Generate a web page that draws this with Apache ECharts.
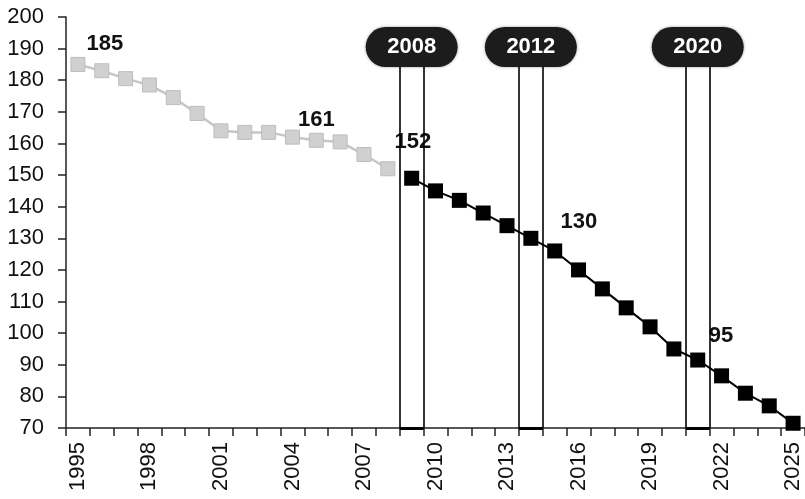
<!DOCTYPE html>
<html>
<head>
<meta charset="utf-8">
<style>
  html, body { margin: 0; padding: 0; background: #ffffff; }
  #chart { width: 805px; height: 499px; }
</style>
<script src="https://cdn.jsdelivr.net/npm/echarts@6/dist/echarts.min.js"></script>
</head>
<body>
<div id="chart"></div>
<script>
// Years on the category axis
const years = ['1995', '1996', '1997', '1998', '1999', '2000', '2001', '2002', '2003', '2004',
  '2005', '2006', '2007', '2008', '2009', '2010', '2011', '2012', '2013', '2014', '2015',
  '2016', '2017', '2018', '2019', '2020', '2021', '2022', '2023', '2024', '2025'];

// Recorded values, 1995-2008 (grey)
const historicYears = years.slice(0, 14);
const historicValues = [185, 183, 180.5, 178.5, 174.5, 169.5, 164, 163.5, 163.5, 162, 161, 160.5, 156.5, 152];

// Path values, 2009-2025 (black)
const projectedYears = years.slice(14);
const projectedValues = [149, 145, 142, 138, 134, 130, 126, 120, 114, 108, 102, 95, 91.5, 86.5, 81, 77, 71.5];

// Value axis ticks
const yMin = 70, yMax = 200, yStep = 10;

// Points whose values are written beside them
const notedYears = ['1995', '2005', '2008', '2014', '2020'];

// Milestone badges and the year band each one brackets
const milestoneLabels = ['2008', '2012', '2020'];
const milestoneBands = ['2009', '2014', '2021'];

// ---- styling ----
const FONT = "'Liberation Sans Narrow', 'Liberation Sans', Arial, sans-serif";
const BOLD_FONT = "'Liberation Sans', Arial, sans-serif";
const noteOffsets = { '1995': [27, -20], '2005': [0, -20], '2008': [25, -27], '2014': [48, -16], '2020': [47, -13] };
const badgeLevel = 190.5;   // badge centre, in axis units
const bracketTop = 184.2;   // where the bracket lines meet the badge

function withNotes(yrs, vals) {
  return yrs.map((y, i) => {
    const item = { value: [y, vals[i]] };
    if (notedYears.includes(y)) {
      item.label = {
        show: true,
        position: 'inside',
        offset: noteOffsets[y],
        formatter: String(vals[i]),
        color: '#111',
        fontFamily: BOLD_FONT,
        fontWeight: 'bold',
        fontSize: 22,
        backgroundColor: y === '2008' ? '#ffffff' : 'transparent',
        padding: y === '2008' ? [3, 1, 3, 1] : 0
      };
    }
    return item;
  });
}

const bracketLines = [];
milestoneBands.forEach(b => {
  const x = Number(b);
  [x - 0.5, x + 0.5].forEach(edge => {
    bracketLines.push([{ coord: [edge, yMin] }, { coord: [edge, bracketTop] }]);
  });
  bracketLines.push([{ coord: [x - 0.5, yMin], lineStyle: { width: 3 } }, { coord: [x + 0.5, yMin] }]);
});

const pill = 'path://M20,0 L72,0 A20,20 0 0 1 72,40 L20,40 A20,20 0 0 1 20,0 Z';

const chart = echarts.init(document.getElementById('chart'), null, { renderer: 'canvas' });
chart.setOption({
  animation: false,
  backgroundColor: '#ffffff',
  grid: { left: 66, right: 0, top: 17, bottom: 71, containLabel: false, outerBoundsMode: 'none' },
  xAxis: [
    {
      type: 'category',
      data: years,
      boundaryGap: true,
      axisLine: { lineStyle: { color: '#222', width: 1.5 } },
      axisTick: { show: true, interval: 0, length: 8, lineStyle: { color: '#222', width: 1.5 } },
      axisLabel: {
        interval: 2,
        rotate: 90,
        margin: 14,
        color: '#111',
        fontFamily: FONT,
        fontSize: 22
      },
      splitLine: { show: false }
    },
    {
      type: 'value',
      min: 1994.5,
      max: 2025.5,
      show: false
    }
  ],
  yAxis: {
    type: 'value',
    min: yMin,
    max: yMax,
    interval: yStep,
    axisLine: { show: true, lineStyle: { color: '#222', width: 1.5 } },
    axisTick: { show: true, length: 8, lineStyle: { color: '#222', width: 1.5 } },
    axisLabel: { margin: 22, color: '#111', fontFamily: FONT, fontSize: 22 },
    splitLine: { show: false }
  },
  series: [
    {
      name: 'brackets',
      type: 'scatter',
      xAxisIndex: 1,
      z: 1,
      silent: true,
      symbol: pill,
      symbolKeepAspect: false,
      symbolSize: [92, 40],
      itemStyle: { color: '#1c1c1c', opacity: 1, shadowColor: 'rgba(0,0,0,0.4)', shadowBlur: 3 },
      label: {
        show: true,
        position: 'inside',
        formatter: p => p.value[2],
        color: '#ffffff',
        fontFamily: BOLD_FONT,
        fontWeight: 'bold',
        fontSize: 22
      },
      data: milestoneBands.map((b, i) => [Number(b), badgeLevel, milestoneLabels[i]]),
      markLine: {
        silent: true,
        symbol: 'none',
        label: { show: false },
        lineStyle: { color: '#000', width: 1.6, type: 'solid', opacity: 1 },
        data: bracketLines
      }
    },
    {
      name: 'historic',
      type: 'line',
      z: 3,
      symbol: 'rect',
      symbolSize: 14,
      lineStyle: { color: '#c6c6c6', width: 2.5 },
      itemStyle: { color: '#d0d0d0', borderColor: '#bdbdbd', borderWidth: 1 },
      data: withNotes(historicYears, historicValues)
    },
    {
      name: 'projected',
      type: 'line',
      z: 3,
      symbol: 'rect',
      symbolSize: 15,
      lineStyle: { color: '#000', width: 2 },
      itemStyle: { color: '#000' },
      data: withNotes(projectedYears, projectedValues)
    }
  ]
});
</script>
</body>
</html>
